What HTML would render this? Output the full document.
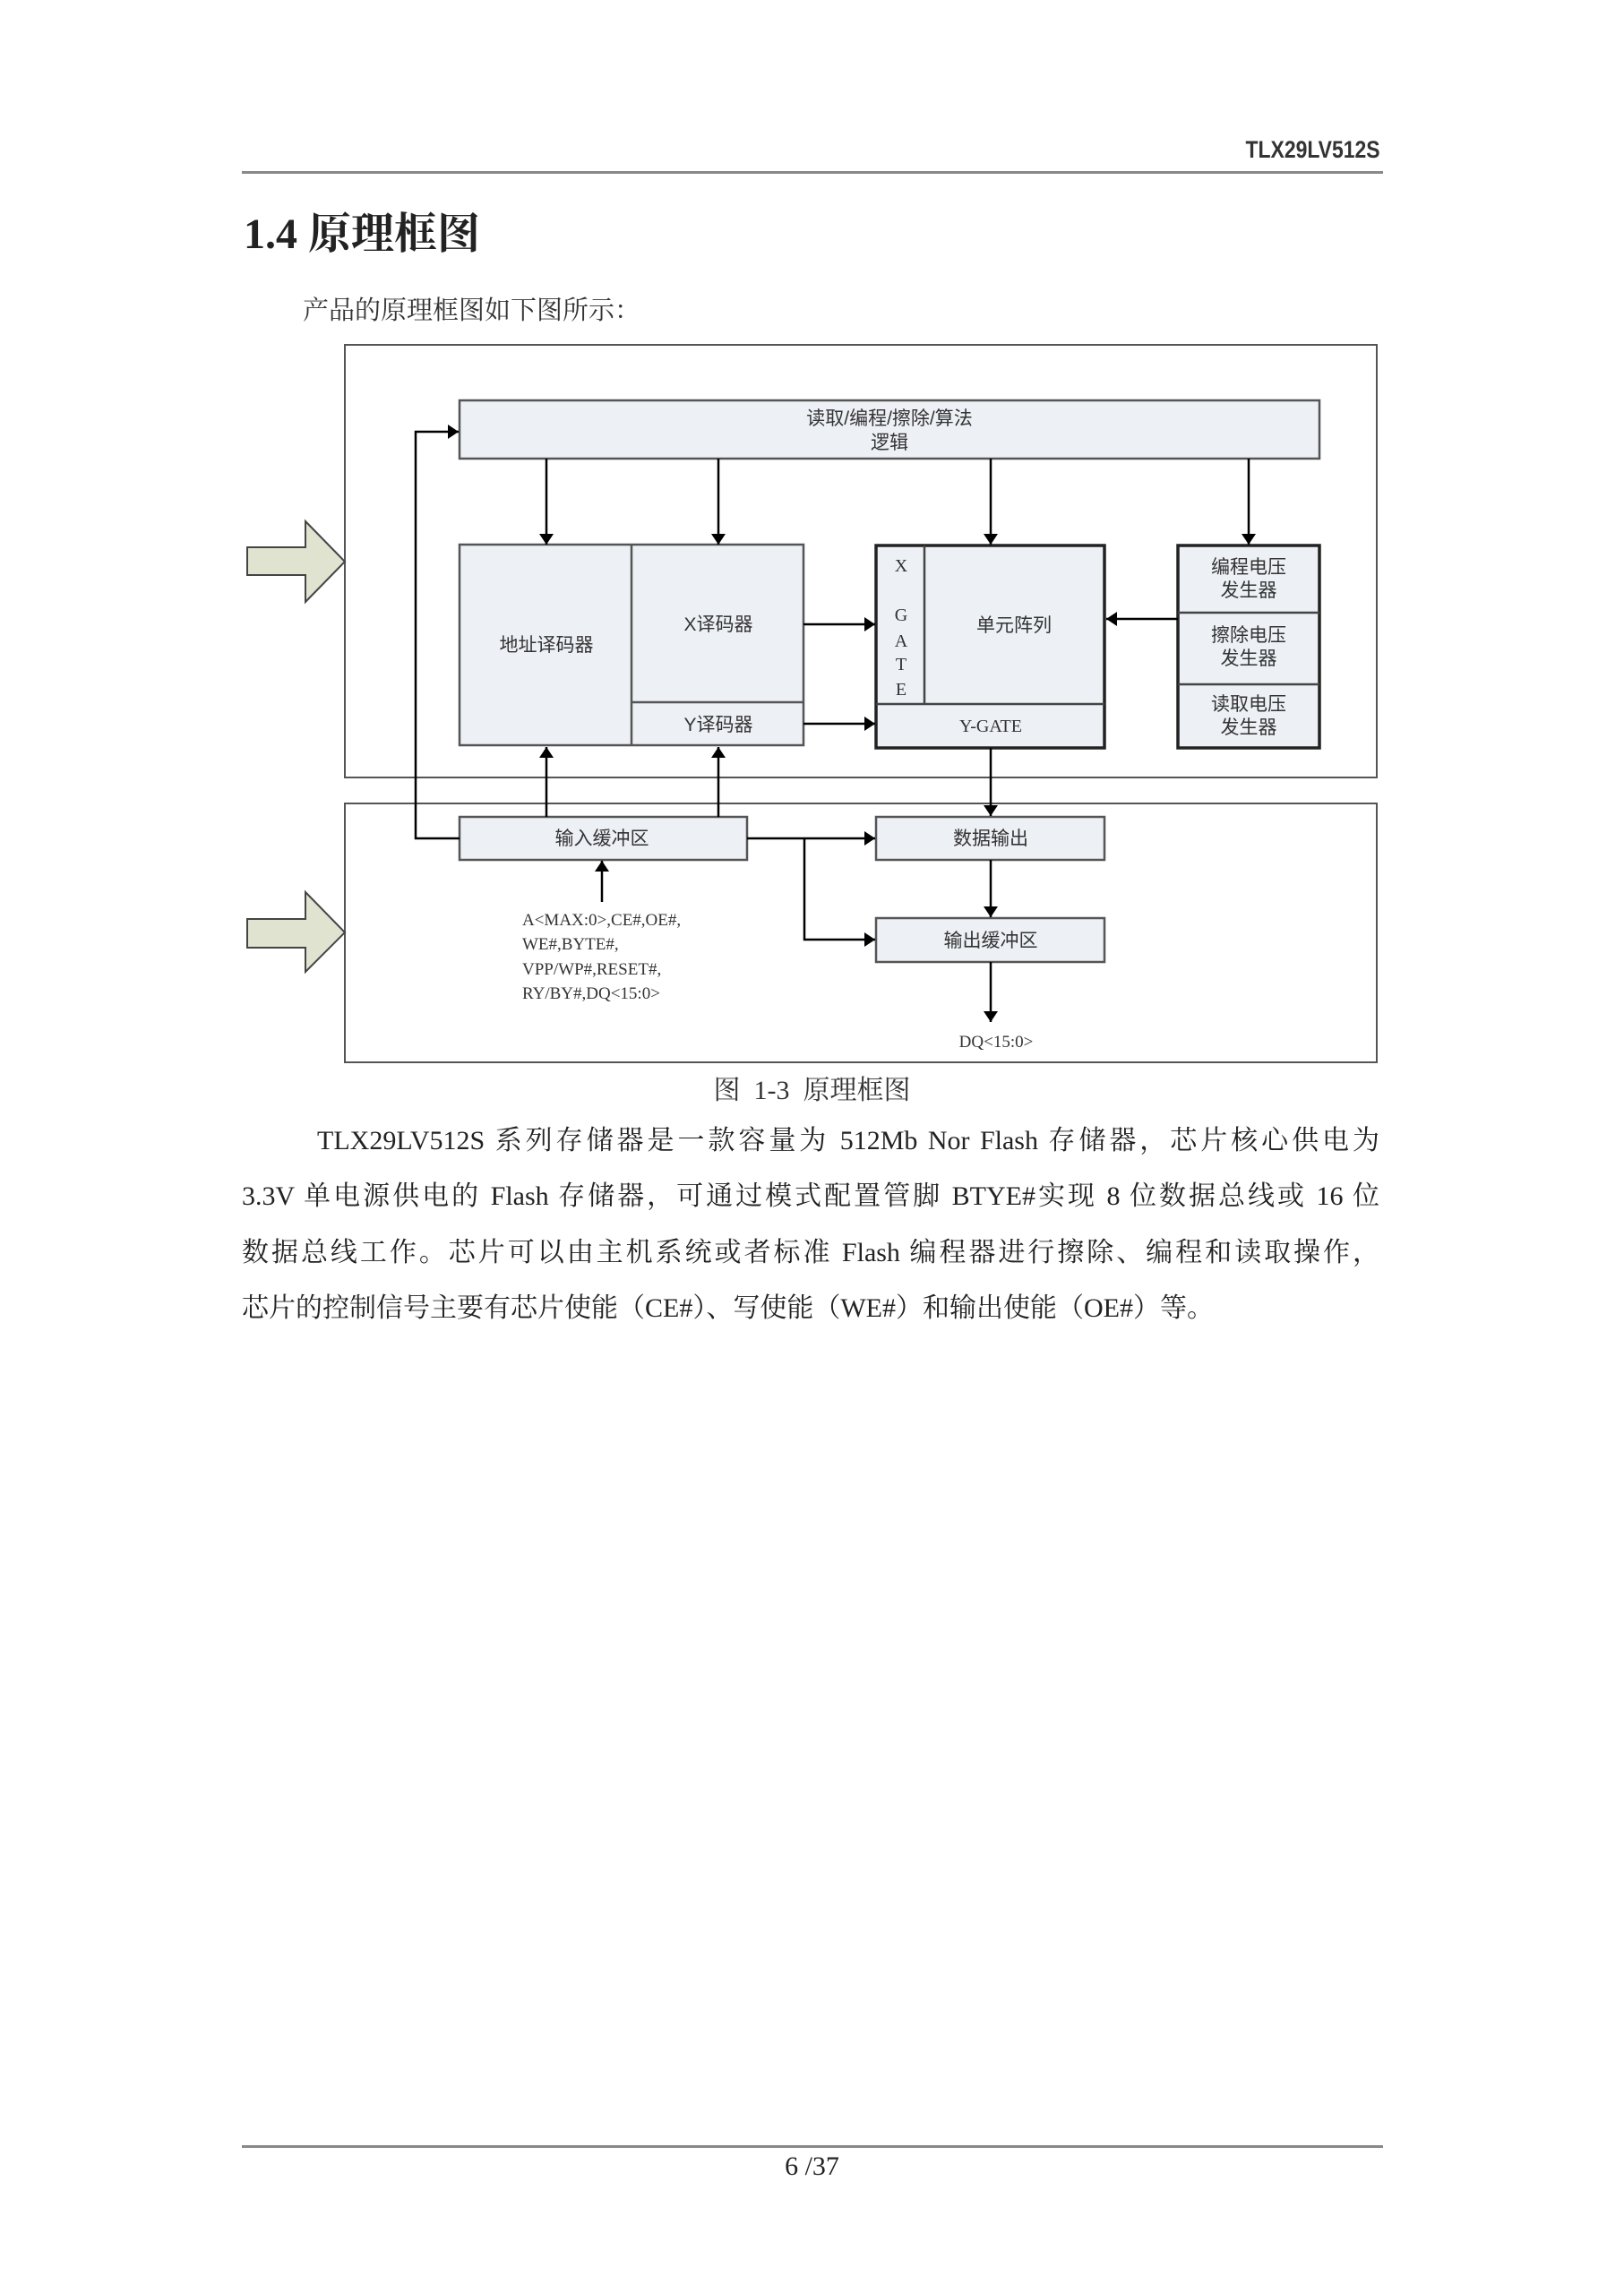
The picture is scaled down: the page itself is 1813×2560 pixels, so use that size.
<!DOCTYPE html>
<html><head><meta charset="utf-8"><style>
html,body{margin:0;padding:0;background:#fff;}
body{width:1813px;height:2560px;position:relative;overflow:hidden;font-family:"Liberation Serif","Noto Serif CJK SC",serif;color:#222;}
.a{position:absolute;white-space:nowrap;}
.p{position:absolute;left:270px;width:1270px;font-size:30px;text-align:justify;text-align-last:justify;white-space:nowrap;line-height:40px;}
</style></head><body>
<div class="a" style="right:272px;top:152px;font:bold 27px 'Liberation Sans',sans-serif;transform:scaleX(0.85);transform-origin:right;color:#333;">TLX29LV512S</div>
<div class="a" style="left:270px;top:191px;width:1274px;height:3px;background:#888;"></div>
<div class="a" style="left:272px;top:222px;font:bold 48px 'Liberation Serif','Noto Serif CJK SC',serif;color:#222;">1.4 原理框图</div>
<div class="a" style="left:338px;top:324px;font-size:29px;color:#333;">产品的原理框图如下图所示：</div>

<svg class="a" style="left:0;top:0" width="1813" height="1250" xmlns="http://www.w3.org/2000/svg" font-family="'Liberation Sans','Noto Sans CJK SC',sans-serif" font-size="21" fill="#333">
<defs>
<marker id="ah" viewBox="0 0 12 16" refX="12" refY="8" markerWidth="12" markerHeight="16" orient="auto" markerUnits="userSpaceOnUse"><path d="M0,0 L12,8 L0,16z" fill="#000"/></marker></defs>
<g fill="none" stroke="#555" stroke-width="2">
<rect x="385" y="385" width="1152" height="483"/>
<rect x="385" y="897" width="1152" height="289"/>
</g>
<g fill="#dfe3cf" stroke="#444" stroke-width="2">
<path d="M276,611 L341,611 L341,582 L385,627 L341,672 L341,642 L276,642z"/>
<path d="M276,1026 L341,1026 L341,996 L385,1041 L341,1085 L341,1058 L276,1058z"/>
</g>
<g fill="#edf0f5" stroke="#555" stroke-width="2.5">
<rect x="513" y="447" width="960" height="65"/>
<rect x="513" y="608" width="384" height="224"/>
<rect x="513" y="912" width="321" height="48"/>
<rect x="978" y="912" width="255" height="48"/>
<rect x="978" y="1025" width="255" height="49"/>
</g>
<g fill="none" stroke="#555" stroke-width="2.5"><path d="M705,608 V832 M705,784 H897"/></g>
<g fill="#edf0f5" stroke="#222" stroke-width="3.5">
<rect x="978" y="609" width="255" height="226"/>
<rect x="1315" y="609" width="158" height="226"/>
</g>
<g fill="none" stroke="#444" stroke-width="2.5"><path d="M1032,609 V786 M978,786 H1233 M1315,684 H1473 M1315,764 H1473"/></g>
<g stroke="#000" stroke-width="2.5" fill="none" marker-end="url(#ah)">
<path d="M610,512 V608"/><path d="M802,512 V608"/><path d="M1106,512 V608"/><path d="M1394,512 V608"/>
<path d="M897,697 H977"/><path d="M897,808 H977"/>
<path d="M1315,691 H1235"/>
<path d="M513,936 H464 V482 H512"/>
<path d="M610,912 V834"/><path d="M802,912 V834"/>
<path d="M1106,835 V911"/>
<path d="M834,936 H977"/><path d="M898,936 V1049 H977"/>
<path d="M1106,960 V1024"/><path d="M1106,1074 V1141"/>
<path d="M672,1007 V961"/>
</g>
<g text-anchor="middle">
<text x="993" y="474">读取/编程/擦除/算法</text>
<text x="993" y="501">逻辑</text>
<text x="610" y="727">地址译码器</text>
<text x="802" y="704">X译码器</text>
<text x="802" y="816">Y译码器</text>
<text x="1132" y="705">单元阵列</text>
<text x="1106" y="817" font-family="'Liberation Serif',serif" font-size="20">Y-GATE</text>
<g font-family="'Liberation Serif',serif" font-size="20"><text x="1006" y="638">X</text><text x="1006" y="693">G</text><text x="1006" y="722">A</text><text x="1006" y="748">T</text><text x="1006" y="776">E</text></g>
<text x="1394" y="640">编程电压</text><text x="1394" y="666">发生器</text>
<text x="1394" y="716">擦除电压</text><text x="1394" y="742">发生器</text>
<text x="1394" y="793">读取电压</text><text x="1394" y="819">发生器</text>
<text x="672" y="943">输入缓冲区</text>
<text x="1106" y="943">数据输出</text>
<text x="1106" y="1057">输出缓冲区</text>
<text x="1112" y="1169" font-family="'Liberation Serif',serif" font-size="19">DQ&lt;15:0&gt;</text>
</g>
<g font-family="'Liberation Serif',serif" font-size="19">
<text x="583" y="1033">A&lt;MAX:0&gt;,CE#,OE#,</text>
<text x="583" y="1060">WE#,BYTE#,</text>
<text x="583" y="1088">VPP/WP#,RESET#,</text>
<text x="583" y="1115">RY/BY#,DQ&lt;15:0&gt;</text>
</g>
</svg>

<div class="a" style="left:0;width:1813px;text-align:center;top:1192px;font-size:30px;color:#333;">图&nbsp; 1-3&nbsp; 原理框图</div>
<div class="p" style="left:354px;width:1186px;top:1254px;">TLX29LV512S 系列存储器是一款容量为 512Mb Nor Flash 存储器，芯片核心供电为</div>
<div class="p" style="top:1316px;">3.3V 单电源供电的 Flash 存储器，可通过模式配置管脚 BTYE#实现 8 位数据总线或 16 位</div>
<div class="p" style="top:1379px;">数据总线工作。芯片可以由主机系统或者标准 Flash 编程器进行擦除、编程和读取操作，</div>
<div class="a" style="left:270px;top:1441px;font-size:30px;line-height:40px;">芯片的控制信号主要有芯片使能（CE#）、写使能（WE#）和输出使能（OE#）等。</div>

<div class="a" style="left:270px;top:2395px;width:1274px;height:3px;background:#888;"></div>
<div class="a" style="left:0;width:1813px;text-align:center;top:2402px;font-size:30px;color:#222;">6 /37</div>
</body></html>
